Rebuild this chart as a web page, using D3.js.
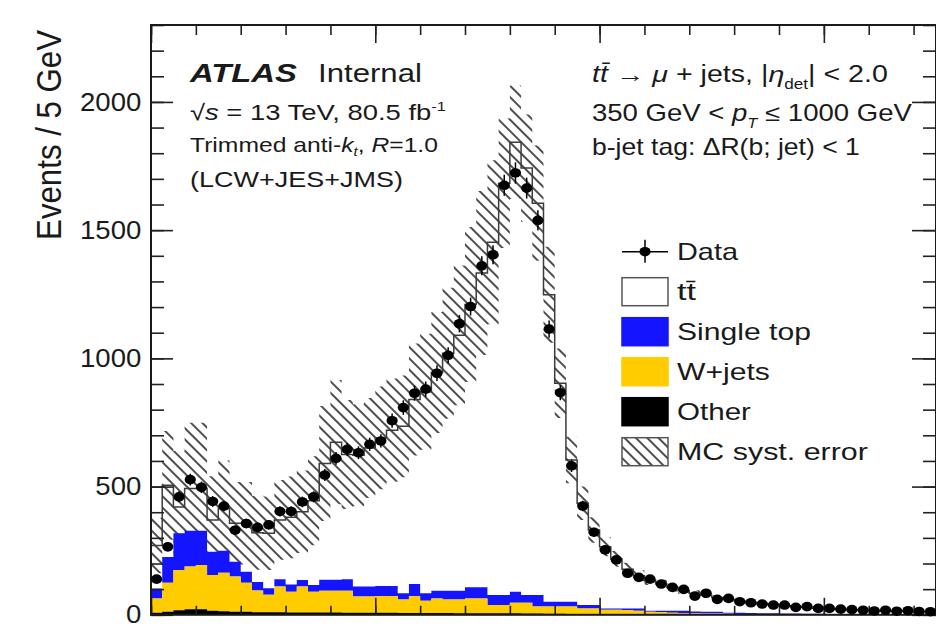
<!DOCTYPE html>
<html><head><meta charset="utf-8">
<script src="https://cdn.jsdelivr.net/npm/d3@7"></script>
<style>
html,body{margin:0;padding:0;background:#fff;}
svg{display:block;font-family:"Liberation Sans",Arial,Helvetica,sans-serif;}
</style></head><body>
<svg id="chart" width="936" height="631"></svg>
<script>
// ---------------- data ----------------
const binWidthGeV = 5;
const massRange = [0, 350];
const yMax = 2300;
const yMajorTicks = [0, 500, 1000, 1500, 2000];
const yMinorStep = 100;
const xMajorTicks = [0, 100, 200, 300];
const xMinorStep = 20;

const dataCounts = [139,265,460,527,497,442,424,330,356,341, 351,403,403,440,460,545,610,645,632,665,
  678,757,808,864,880,942,1012,1135,1202,1361, 1404,1675,1723,1664,1538,1114,866,581,424,322,
  253,214,162,146,139,120,107,99,73,84, 60,64,51,47,42,38,38,29,32,25,
  25,22,20,18,15,18,14,16,13,12];

const ttbar = [167,280,102,165,165,124,165,150,189,192, 214,231,262,266,329,453,536,486,512,540,
  578,608,651,720,786,851,926,996,1103,1226, 1376,1606,1753,1665,1528,1197,852,553,397,293,
  240,193,153,127,119,104,90,79,71,64, 55,52,46,41,37,33,30,27,25,22,
  21,19,17,15,14,14,13,12,11,10];

const singleTop = [39,100,143,140,134,91,86,58,43,33, 26,29,28,26,26,43,43,45,39,39,
  39,39,24,47,29,30,34,34,43,43, 39,39,43,30,45,19,19,19,13,13,
  5,5,7,9,4,6,8,9,7,7, 7,4,5,4,3,4,3,3,2,2,
  2,2,2,2,2,1,1,1,1,1];

const wjets = [56,113,157,166,172,139,150,137,113,85, 68,100,81,101,81,85,85,86,63,63,
  65,65,53,66,48,57,53,54,58,58, 32,32,41,42,27,28,28,29,22,22,
  18,18,16,14,10,8,7,6,5,4, 4,3,2,2,2,1,1,2,2,2,
  1,1,1,1,1,1,1,1,1,1];

const other = [8,12,18,22,22,16,14,12,12,10, 10,10,9,9,9,9,9,8,8,8,
  8,8,7,7,7,7,7,6,6,6, 6,6,6,5,5,4,4,3,3,3,
  2,2,2,2,2,2,1,1,1,1, 1,1,1,1,1,1,1,0,0,0,
  0,0,0,0,0,0,0,0,0,0];

// relative MC systematic uncertainty per bin
const systRel = [0.40,0.42,0.52,0.52,0.52,0.46,0.45,0.45,0.45,0.45, 0.45,0.42,0.42,0.40,0.39,0.38,0.36,0.34,0.32,0.30,
  0.29,0.28,0.27,0.26,0.26,0.25,0.25,0.25,0.25,0.24, 0.22,0.15,0.12,0.12,0.14,0.15,0.15,0.15,0.15,0.15,
  0.14,0.14,0.14,0.14,0.14,0.14,0.14,0.14,0.14,0.14, 0.14,0.14,0.14,0.14,0.14,0.14,0.14,0.14,0.14,0.14,
  0.14,0.14,0.14,0.14,0.14,0.14,0.14,0.14,0.14,0.14];

const legendEntries = [
  {label:"Data", type:"data"},
  {label:"tt\u0304", type:"box", fill:"#ffffff"},
  {label:"Single top", type:"box", fill:"#1414ff"},
  {label:"W+jets", type:"box", fill:"#ffcc00"},
  {label:"Other", type:"box", fill:"#000000"},
  {label:"MC syst. error", type:"hatch"}
];

// ---------------- layout ----------------
const L = 151, R = 936, T = 25, B = 614.8;
const x = d3.scaleLinear().domain(massRange).range([L, R]);
const y = d3.scaleLinear().domain([0, yMax]).range([B, T]);
const svg = d3.select('#chart');
const defs = svg.append('defs');

const pat = defs.append('pattern').attr('id','hatch').attr('patternUnits','userSpaceOnUse')
  .attr('width',8).attr('height',8).attr('patternTransform','rotate(-45)');
pat.append('line').attr('x1',4).attr('y1',-1).attr('x2',4).attr('y2',9)
  .attr('stroke','#3a3a3a').attr('stroke-width',1.8);

defs.append('clipPath').attr('id','plotclip').append('rect')
  .attr('x',L).attr('y',T).attr('width',R-L).attr('height',B-T);

const nBins = dataCounts.length;
const edges = d3.range(nBins+1).map(i => massRange[0] + i*binWidthGeV);
const rows = d3.range(nBins).map(i => ({other:other[i], wjets:wjets[i], singleTop:singleTop[i], ttbar:ttbar[i]}));
const keys = ['other','wjets','singleTop','ttbar'];
const series = d3.stack().keys(keys)(rows);
const colors = {other:'#000000', wjets:'#ffcc00', singleTop:'#1414ff', ttbar:'#ffffff'};

function stepPts(lo, hi){
  const pts = d3.range(nBins).map(i => ({x:edges[i], lo:lo(i), hi:hi(i)}));
  pts.push({x:edges[nBins], lo:lo(nBins-1), hi:hi(nBins-1)});
  return pts;
}
const area = d3.area().curve(d3.curveStepAfter).x(d=>x(d.x)).y0(d=>y(d.lo)).y1(d=>y(d.hi));
const line = d3.line().curve(d3.curveStepAfter).x(d=>x(d.x)).y(d=>y(d.hi));

const plot = svg.append('g').attr('clip-path','url(#plotclip)');
const total = i => series[3][i][1];

// ttbar layer (white)
const ttS = series[3];
plot.append('path').attr('d', area(stepPts(i=>ttS[i][0], i=>ttS[i][1]))).attr('fill', colors.ttbar);
// syst band
plot.append('path').attr('d', area(stepPts(i=>total(i)*(1-systRel[i]), i=>total(i)*(1+systRel[i]))))
  .attr('fill','url(#hatch)').attr('stroke','none');
// backgrounds
[series[2], series[1], series[0]].forEach(s => {
  plot.append('path').attr('d', area(stepPts(i=>s[i][0], i=>s[i][1]))).attr('fill', colors[s.key]);
});
// total MC outline
plot.append('path').attr('d', line(stepPts(i=>0, i=>total(i))))
  .attr('fill','none').attr('stroke','#3c3c3c').attr('stroke-width',1.5);

// ---------------- axes ----------------
const axG = svg.append('g');
function styleAxis(g){
  g.select('.domain').remove();
  g.selectAll('.tick line').attr('stroke','#222').attr('stroke-width',1.6);
}
const yMinorVals = d3.range(0, yMax+1, yMinorStep);
const xMinorVals = d3.range(massRange[0], massRange[1]+1, xMinorStep);

axG.append('g').attr('transform',`translate(${L},0)`).call(d3.axisLeft(y).tickValues(yMinorVals).tickSize(-13).tickFormat('')).call(styleAxis);
const yl = axG.append('g').attr('transform',`translate(${L},0)`)
  .call(d3.axisLeft(y).tickValues(yMajorTicks).tickSize(-22).tickPadding(9).tickFormat(d3.format('d')))
  .call(styleAxis);
yl.selectAll('.tick text').attr('font-size',25.5).attr('fill','#1a1a1a')
  .attr('font-family','"Liberation Sans",Arial,sans-serif').attr('transform','scale(1.08,1)');
axG.append('g').attr('transform',`translate(${R},0)`).call(d3.axisRight(y).tickValues(yMinorVals).tickSize(-13).tickFormat('')).call(styleAxis);
axG.append('g').attr('transform',`translate(${R},0)`).call(d3.axisRight(y).tickValues(yMajorTicks).tickSize(-24).tickFormat('')).call(styleAxis);
axG.append('g').attr('transform',`translate(0,${T})`).call(d3.axisTop(x).tickValues(xMinorVals).tickSize(-10).tickFormat('')).call(styleAxis);
axG.append('g').attr('transform',`translate(0,${T})`).call(d3.axisTop(x).tickValues(xMajorTicks).tickSize(-18).tickFormat('')).call(styleAxis);
axG.append('g').attr('transform',`translate(0,${B})`).call(d3.axisBottom(x).tickValues(xMinorVals).tickSize(-9).tickFormat('')).call(styleAxis);
axG.append('g').attr('transform',`translate(0,${B})`).call(d3.axisBottom(x).tickValues(xMajorTicks).tickSize(-17).tickFormat('')).call(styleAxis);
svg.append('rect').attr('x',L).attr('y',T).attr('width',R-L).attr('height',B-T)
  .attr('fill','none').attr('stroke','#1a1a1a').attr('stroke-width',2);

// ---------------- data points ----------------
const dG = svg.append('g');
dataCounts.forEach((v,i) => {
  const cx = x((edges[i]+edges[i+1])/2);
  const e = Math.sqrt(v);
  dG.append('line').attr('x1',cx).attr('x2',cx).attr('y1',y(v-e)).attr('y2',y(v+e))
    .attr('stroke','#000').attr('stroke-width',1.5);
  dG.append('ellipse').attr('cx',cx).attr('cy',y(v)).attr('rx',5.6).attr('ry',4.8).attr('fill','#000');
});

// ---------------- text helper ----------------
function stretchText(parent, px, py, size, targetW, parts){
  const g = parent.append('g');
  const t = g.append('text').attr('font-size', size).attr('fill','#1a1a1a');
  parts.forEach(p => {
    const ts = t.append('tspan').text(p.t);
    if (p.i) ts.attr('font-style','italic');
    if (p.b) ts.attr('font-weight','bold');
    if (p.s) ts.attr('font-size', size*p.s);
    if (p.dy) ts.attr('dy', p.dy);
  });
  const w = t.node().getComputedTextLength();
  const sx = targetW / w;
  g.attr('transform', `translate(${px},${py}) scale(${sx},1)`);
  return g;
}

// y axis title
(function(){
  const g = svg.append('g');
  const t = g.append('text').attr('font-size',30).attr('fill','#1a1a1a').attr('text-anchor','end')
    .text('Events / 5 GeV');
  const w = t.node().getComputedTextLength();
  g.attr('transform', `translate(61,30) scale(1.2,${210/w}) rotate(-90)`);
})();

// annotations left
stretchText(svg, 190, 81.7, 26, 107, [{t:'ATLAS', b:true, i:true}]);
stretchText(svg, 318, 81.7, 26, 104, [{t:'Internal'}]);
stretchText(svg, 190, 120, 22, 256, [{t:'\u221A'},{t:'s', i:true},{t:' = 13 TeV, 80.5 fb'},{t:'-1', s:0.6, dy:-9}]);
stretchText(svg, 190, 152, 21, 248, [{t:'Trimmed anti-'},{t:'k', i:true},{t:'t', i:true, s:0.6, dy:4},{t:', ', dy:-4},{t:'R', i:true},{t:'=1.0'}]);
stretchText(svg, 190, 187, 21.5, 213, [{t:'(LCW+JES+JMS)'}]);

// annotations right
stretchText(svg, 592, 81.7, 23, 296, [{t:'tt\u0304', i:true},{t:' \u2192 '},{t:'\u03BC', i:true},{t:' + jets, |'},{t:'\u03B7', i:true},{t:'det', s:0.6, dy:7},{t:'| < 2.0', dy:-7}]);
stretchText(svg, 592, 121, 23, 320, [{t:'350 GeV < '},{t:'p', i:true},{t:'T', i:true, s:0.6, dy:7},{t:' \u2264 1000 GeV', dy:-7}]);
stretchText(svg, 592, 155, 23, 268, [{t:'b-jet tag: \u0394R(b; jet) < 1'}]);

// ---------------- legend ----------------
const lg = svg.append('g');
const legTop = 237, legStep = 40, boxX = 622, boxW = 46, boxH = 28;
const legWidths = [61, 19, 134, 93, 74, 191];
legendEntries.forEach((e, k) => {
  const cy = legTop + 14.7 + k*legStep;
  if (e.type === 'data') {
    lg.append('line').attr('x1',boxX).attr('x2',boxX+boxW).attr('y1',cy).attr('y2',cy).attr('stroke','#000').attr('stroke-width',1.5);
    lg.append('line').attr('x1',boxX+23).attr('x2',boxX+23).attr('y1',cy-12).attr('y2',cy+11).attr('stroke','#000').attr('stroke-width',1.5);
    lg.append('ellipse').attr('cx',boxX+23).attr('cy',cy).attr('rx',5.6).attr('ry',4.8).attr('fill','#000');
  } else {
    lg.append('rect').attr('x',boxX).attr('y',cy-14).attr('width',boxW).attr('height',boxH)
      .attr('fill', e.type==='hatch' ? 'url(#hatch)' : e.fill)
      .attr('stroke', e.type==='box' && e.fill!=='#ffffff' ? e.fill : '#555').attr('stroke-width',1.5);
  }
  stretchText(lg, 677, cy+8.3, 23, legWidths[k], [{t:e.label}]);
});
</script>
</body></html>
